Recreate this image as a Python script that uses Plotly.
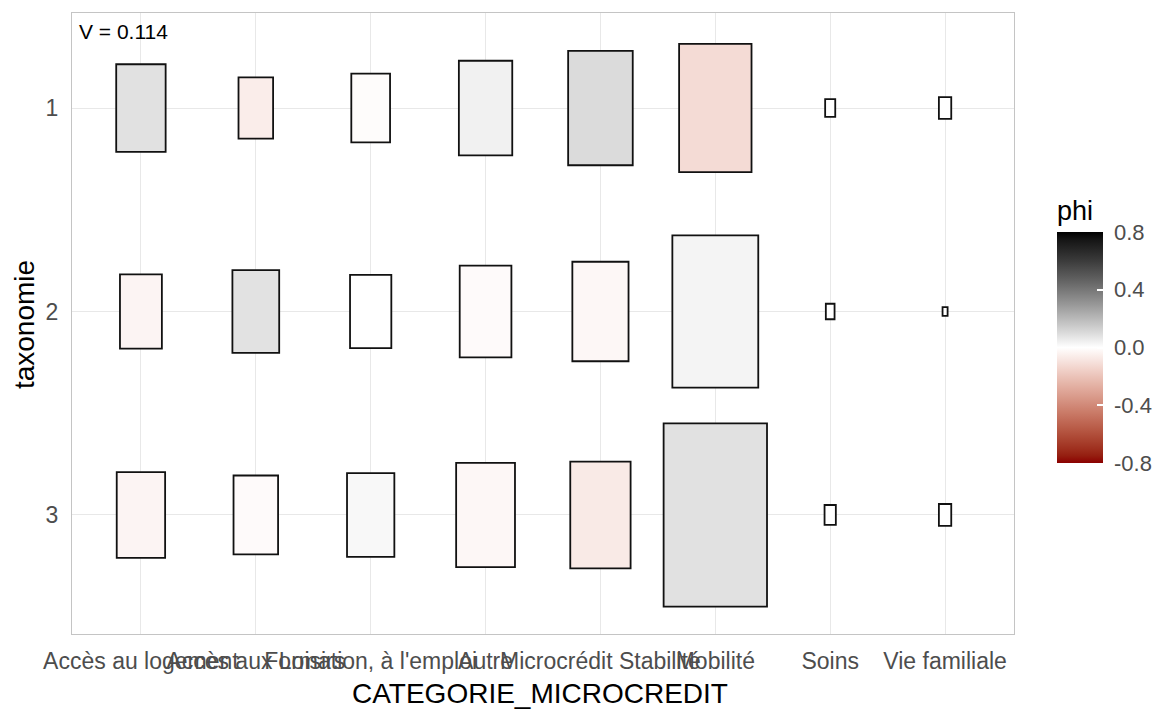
import numpy as np
import plotly.graph_objects as go

# ---------------- data ----------------
categories = ["Accès au logement", "Accès aux Loisirs", "Formation, à l'emploi", "Autre",
              "Microcrédit Stabilité", "Mobilité", "Soins", "Vie familiale"]
groups = [1, 2, 3]
counts_1 = [96, 47, 59, 112, 164, 206, 4, 6]
counts_2 = [69, 86, 67, 105, 124, 290, 3, 1]
counts_3 = [92, 78, 88, 136, 143, 420, 5, 6]
phi_1 = [0.085, -0.06, -0.01, 0.04, 0.10, -0.12, 0.0, 0.0]
phi_2 = [-0.035, 0.08, 0.0, -0.015, -0.025, 0.03, 0.0, 0.0]
phi_3 = [-0.035, -0.015, 0.02, -0.025, -0.07, 0.085, 0.0, 0.0]
cramer_v = 0.114
phi_ticks = [0.8, 0.4, 0.0, -0.4, -0.8]

counts = [counts_1, counts_2, counts_3]
phis = [phi_1, phi_2, phi_3]

# ---------------- colour helpers (Lab interpolation like ggplot) ----------------
LOW, MID, HIGH = "#8B0000", "#FFFFFF", "#000000"
PHI_MAX = 0.8
M_RGB2XYZ = np.array([[0.4124, 0.3576, 0.1805], [0.2126, 0.7152, 0.0722], [0.0193, 0.1192, 0.9505]])
WHITE_REF = np.array([0.95047, 1.0, 1.08883])


def _hex2rgb(h):
    h = h.lstrip("#")
    return np.array([int(h[i:i + 2], 16) / 255 for i in (0, 2, 4)])


def _rgb2lab(rgb):
    lin = np.where(rgb <= 0.04045, rgb / 12.92, ((rgb + 0.055) / 1.055) ** 2.4)
    xyz = M_RGB2XYZ @ lin / WHITE_REF
    f = np.where(xyz > 0.008856, np.cbrt(xyz), 7.787 * xyz + 16 / 116)
    return np.array([116 * f[1] - 16, 500 * (f[0] - f[1]), 200 * (f[1] - f[2])])


def _lab2hex(lab):
    fy = (lab[0] + 16) / 116
    fx = fy + lab[1] / 500
    fz = fy - lab[2] / 200
    f = np.array([fx, fy, fz])
    xyz = np.where(f ** 3 > 0.008856, f ** 3, (f - 16 / 116) / 7.787) * WHITE_REF
    lin = np.clip(np.linalg.inv(M_RGB2XYZ) @ xyz, 0, 1)
    rgb = np.where(lin <= 0.0031308, 12.92 * lin, 1.055 * lin ** (1 / 2.4) - 0.055)
    rgb = np.clip(rgb, 0, 1)
    return "#%02x%02x%02x" % tuple(int(round(v * 255)) for v in rgb)


LAB_LOW, LAB_MID, LAB_HIGH = _rgb2lab(_hex2rgb(LOW)), _rgb2lab(_hex2rgb(MID)), _rgb2lab(_hex2rgb(HIGH))


def fill_for(phi):
    t = max(-1.0, min(1.0, phi / PHI_MAX))
    if t < 0:
        lab = LAB_MID + (LAB_LOW - LAB_MID) * (-t)
    else:
        lab = LAB_MID + (LAB_HIGH - LAB_MID) * t
    return _lab2hex(lab)


stops = np.linspace(-PHI_MAX, PHI_MAX, 33)
colorscale = [[(v + PHI_MAX) / (2 * PHI_MAX), fill_for(v)] for v in stops]

# ---------------- figure ----------------
FONT = "Liberation Sans, Arial, sans-serif"
max_n = max(max(c) for c in counts)
x_pos = list(range(1, len(categories) + 1))

shapes = []
for gi, g in enumerate(groups):
    for ci, xc in enumerate(x_pos):
        side = 0.9 * np.sqrt(counts[gi][ci] / max_n)
        shapes.append(dict(
            type="rect", xref="x", yref="y",
            x0=xc - side / 2, x1=xc + side / 2,
            y0=g - side / 2, y1=g + side / 2,
            fillcolor=fill_for(phis[gi][ci]),
            line=dict(color="#111111", width=1.8),
            layer="above",
        ))

fig = go.Figure()
fig.add_trace(go.Scatter(
    x=[None], y=[None], mode="markers", hoverinfo="skip", showlegend=False,
    marker=dict(
        color=[0], cmin=-PHI_MAX, cmax=PHI_MAX, colorscale=colorscale, showscale=True,
        colorbar=dict(
            title=dict(text="phi", side="top", font=dict(family=FONT, size=27, color="#000000")),
            x=(1057 - 72) / 943, xanchor="left", xpad=0,
            y=(634 - 330) / 621, yanchor="middle", ypad=0,
            len=266, lenmode="pixels", thickness=46, thicknessmode="pixels",
            outlinewidth=0,
            tickvals=phi_ticks, ticktext=["\u00a0%.1f" % v for v in phi_ticks],
            ticks="inside", ticklen=6, tickcolor="#ffffff", tickwidth=1.5,
            tickfont=dict(family=FONT, size=22, color="#4d4d4d"),
        ),
    ),
))

fig.update_layout(
    width=1154, height=703,
    margin=dict(l=64, r=147, t=5, b=77),
    paper_bgcolor="#ffffff", plot_bgcolor="#ffffff",
    shapes=shapes,
    showlegend=False,
    font=dict(family=FONT),
    xaxis=dict(
        range=[0.4, 8.6], tickmode="array", tickvals=x_pos, ticktext=categories,
        tickangle=0, showgrid=True, gridcolor="#e8e8e8", gridwidth=1, zeroline=False,
        showline=True, linecolor="#c4c4c4", linewidth=1, mirror=True,
        ticks="", ticklabelstandoff=6,
        tickfont=dict(family=FONT, size=23, color="#4d4d4d"), automargin=False,
    ),
    yaxis=dict(
        range=[3.585, 0.533], tickmode="array", tickvals=groups, ticktext=[str(g) for g in groups],
        showgrid=True, gridcolor="#e8e8e8", gridwidth=1, zeroline=False,
        showline=True, linecolor="#c4c4c4", linewidth=1, mirror=True,
        ticks="", ticklabelstandoff=8,
        tickfont=dict(family=FONT, size=23, color="#4d4d4d"), automargin=False,
    ),
    annotations=[
        dict(text="CATEGORIE_MICROCREDIT", xref="paper", yref="paper",
             x=(540 - 72) / 943, y=(634 - 693) / 621, xanchor="center", yanchor="middle",
             showarrow=False, font=dict(family=FONT, size=28, color="#000000")),
        dict(text="taxonomie", xref="paper", yref="paper", textangle=-90,
             x=(24 - 72) / 943, y=(634 - 325) / 621, xanchor="center", yanchor="middle",
             showarrow=False, font=dict(family=FONT, size=28, color="#000000")),
        dict(text="V = %.3f" % cramer_v, xref="paper", yref="paper",
             x=(77 - 72) / 943, y=(634 - 31) / 621, xanchor="left", yanchor="middle",
             showarrow=False, font=dict(family=FONT, size=21, color="#000000")),
    ],
)

fig.write_html("out.html")
